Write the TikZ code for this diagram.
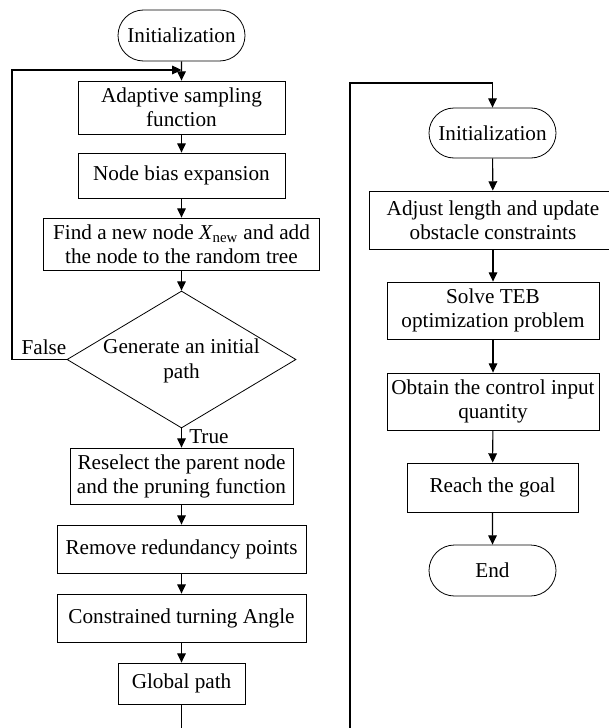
\documentclass[tikz,border=0pt]{standalone}
\usepackage{fontspec}
\setmainfont{Liberation Serif}
\usetikzlibrary{arrows.meta,shapes.geometric,shapes.misc}
\begin{document}
\begin{tikzpicture}[x=0.75pt,y=-0.75pt,
  base/.style={draw, line width=0.6pt, inner sep=0pt, font=\fontsize{15.9}{18}\selectfont},
  proc/.style={base, rectangle, align=center},
  term/.style={base, rounded rectangle, align=center},
  dec/.style={base, diamond},
  arr/.style={line width=0.8pt, -{Triangle[length=7pt,width=6.5pt]}},
  ln/.style={line width=0.8pt},
  lbl/.style={inner sep=0pt, font=\fontsize{15.9}{18}\selectfont}]
\useasboundingbox (0,0) rectangle (609,728);
% left column
\node[term, minimum width=95.25pt, minimum height=38.25pt] (init1) at (181.5,35.5) {Initialization};
\node[proc, minimum width=155.25pt, minimum height=39.75pt] (adapt) at (181.5,107.5) {Adaptive sampling\\function};
\node[proc, minimum width=155.25pt, minimum height=33.75pt] (bias) at (181.5,175.5) {Node bias expansion};
\node[proc, minimum width=207pt, minimum height=39pt] (find) at (181.5,244) {Find a new node \textit{X}\textsubscript{new} and add\\the node to the random tree};
\node[dec, minimum width=171.75pt, minimum height=102.75pt] (dia) at (181.5,359.5) {\smash{\makebox[0pt]{\raisebox{-5.5pt}{\begin{tabular}{@{}c@{}}Generate an initial\\[1pt]path\end{tabular}}}}};
\node[proc, minimum width=167.25pt, minimum height=42pt] (resel) at (181.5,476) {Reselect the parent node\\and the pruning function};
\node[proc, minimum width=186.75pt, minimum height=36pt] (remove) at (181.5,549) {Remove redundancy points};
\node[proc, minimum width=186.75pt, minimum height=36pt] (constr) at (181.5,618) {Constrained turning Angle};
\node[proc, minimum width=95.25pt, minimum height=30.75pt] (global) at (181.5,683.5) {Global path};
\coordinate (lbot) at (181.5,730);
\coordinate (ljoin) at (181.5,70);
\coordinate (lcorner) at (12,70);
\node[lbl, anchor=west] (truelbl) at (189,437) {True};
\node[lbl] (falselbl) at (44,347) {False};
% right column
\node[term, minimum width=95.25pt, minimum height=37.5pt] (init2) at (492.5,133) {Initialization};
\node[proc, minimum width=186pt, minimum height=43.5pt] (adjust) at (493,220) {Adjust length and update\\obstacle constraints};
\node[proc, minimum width=159pt, minimum height=42.75pt] (solve) at (493,310.5) {Solve TEB\\optimization problem};
\node[proc, minimum width=159pt, minimum height=42.75pt] (obtain) at (493,401.5) {Obtain the control input\\quantity};
\node[proc, minimum width=128.25pt, minimum height=36.75pt] (reach) at (492.5,487.5) {Reach the goal};
\node[term, minimum width=95.25pt, minimum height=38.25pt] (end) at (492.5,570.5) {End};
\coordinate (rbot) at (350,730);
\coordinate (rtop) at (350,83);
% connectors left
\draw[arr] (init1) -- (adapt);
\draw[arr] (adapt) -- (bias);
\draw[arr] (bias) -- (find);
\draw[arr] (find) -- (dia);
\draw[arr] (dia) -- (resel);
\draw[arr] (resel) -- (remove);
\draw[arr] (remove) -- (constr);
\draw[arr] (constr) -- (global);
\draw[ln] (global) -- (lbot);
\draw[arr] (dia.west) -| (lcorner) -- (ljoin);
% connectors right
\draw[arr] (rbot) -- (rtop) -| (init2.north);
\draw[arr] (init2) -- (adjust);
\draw[arr] (adjust) -- (solve);
\draw[arr] (solve) -- (obtain);
\draw[arr] (obtain) -- (reach);
\draw[arr] (reach) -- (end);
\end{tikzpicture}
\end{document}
